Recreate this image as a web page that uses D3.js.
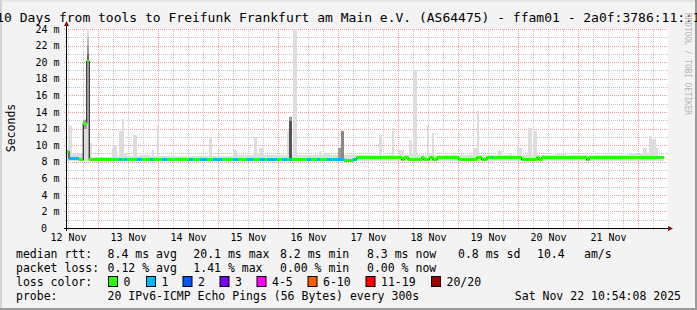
<!DOCTYPE html>
<html>
<head>
<meta charset="utf-8">
<script src="https://cdn.jsdelivr.net/npm/d3@7"></script>
<style>
body { margin: 0; background: #f3f3f3; }
svg { display: block; font-family: "DejaVu Sans Mono", monospace; }
</style>
</head>
<body>
<svg id="chart" width="697" height="310"></svg>
<script>
var width = 697, height = 310;

var title = "10 Days from tools to Freifunk Frankfurt am Main e.V. (AS64475) - ffam01 - 2a0f:3786:11::1";
var dayLabels = ["12 Nov", "13 Nov", "14 Nov", "15 Nov", "16 Nov", "17 Nov", "18 Nov", "19 Nov", "20 Nov", "21 Nov"];
var yTicks = [0, 2, 4, 6, 8, 10, 12, 14, 16, 18, 20, 22, 24];

// all times are hours counted from 12 Nov 00:00
var startHour = 11.6, endHour = 251.6, dataEndHour = 250.4;

// median rtt in ms, step series (value holds until next hour), with lost pings per step
var medHour = [11.6, 12.4, 16.4, 18.1, 19.5, 20.5, 32.5, 33.5, 34.4, 35.5, 39.5, 41.5, 44.8, 46.1, 49.5, 51.5,
  60.4, 62.1, 64.8, 67.5, 70.1, 73.5, 78.1, 80.1, 83.5, 86.1, 88.8, 90.8, 91.5, 95.5, 97.5, 99.7, 100.5, 101.6,
  107.5, 109.1, 111.5, 112.8, 115.5, 117.5, 118.1, 122.4, 126.1, 127.5, 145.5, 146.4, 148.1, 153.5, 154.4, 156.5,
  158, 159.6, 168.4, 175.5, 177.5, 179.5, 181.5, 182.1, 193.5, 199.5, 200.4, 201.5, 219.5, 220.4];
var medMs = [9.2, 8.35, 8.25, 12.6, 20.1, 8.3, 8.3, 8.3, 8.3, 8.3, 8.3, 8.3, 8.3, 8.3, 8.3, 8.3,
  8.3, 8.3, 8.3, 8.3, 8.3, 8.3, 8.3, 8.3, 8.3, 8.3, 8.3, 8.3, 8.3, 8.3, 8.3, 8.3, 8.3, 8.3,
  8.3, 8.3, 8.3, 8.3, 8.3, 8.3, 8.3, 8.2, 8.3, 8.45, 8.25, 8.45, 8.25, 8.45, 8.25, 8.45,
  8.25, 8.45, 8.25, 8.45, 8.25, 8.45, 8.45, 8.45, 8.25, 8.45, 8.25, 8.45, 8.25, 8.45];
var medLoss = [0, 1, 0, 0, 0, 0, 1, 0, 1, 0, 1, 0, 1, 0, 1, 0,
  1, 0, 1, 0, 1, 0, 1, 0, 1, 0, 1, 0, 1, 0, 1, 0, 1, 0,
  1, 0, 1, 0, 1, 0, 1, 0, 1, 0, 0, 0, 0, 0, 0, 0,
  0, 0, 0, 0, 0, 0, 1, 0, 0, 0, 0, 0, 0, 0];

// upper edge of the light smoke (ms), step series
var smokeHour = [11.6, 12.12, 13.48, 16, 18.12, 19.48, 20.52, 21.6, 29.48, 30.12, 31.48, 32.4, 33.48, 34.4, 35.48,
  38.12, 39.48, 40.8, 44.8, 45.48, 46.4, 47.48, 48.28, 68.4, 69.48, 78.12, 79.48, 86.4, 87.48, 88.4, 89.88,
  90.4, 99.48, 100.4, 101.6, 102.12, 103.72, 112.28, 113.32, 114, 116.4, 120.12, 121.08, 122.4, 136.4, 137.72,
  141.48, 142.4, 144.4, 146.4, 148.4, 149.72, 150.12, 151.72, 155.48, 156.52, 157.48, 158.4, 174.12, 175.48,
  176.52, 184.12, 185.48, 188.4, 189.48, 191.48, 192.4, 193.48, 196.12, 197.48, 198.12, 199.48, 207.2, 211.2,
  232.8, 236.12, 242.12, 243.48, 244.4, 245.72, 247.08, 248.12];
var smokeTop = [9.4, 12.25, 8.9, 9.0, 13.2, 24, 10.25, 8.6, 9.7, 10.0, 8.7, 11.7, 13.2, 8.9, 8.65,
  11.25, 8.65, 8.8, 8.65, 9.45, 8.7, 12.3, 8.7, 10.85, 8.7, 9.45, 8.75, 11.0, 8.9, 9.7, 8.9,
  8.75, 11.65, 13.5, 8.8, 24, 8.75, 9.3, 8.8, 9.0, 8.75, 9.65, 11.75, 8.75, 11.25, 8.8,
  12.05, 8.8, 9.45, 8.8, 10.65, 8.9, 19.0, 8.8, 12.3, 8.8, 11.45, 8.75, 9.7, 14.15,
  8.75, 9.3, 8.8, 9.0, 8.8, 9.9, 9.65, 8.8, 12.05, 8.8, 11.65, 8.75, 8.9, 8.75,
  8.8, 8.9, 9.7, 9.0, 11.1, 10.7, 9.7, 8.7];
var smokeFloor = 8.1;

// denser smoke: from hour, to hour, low ms, high ms, grey
var darkStart = [18.12, 19.48, 19.48, 19.48, 100.4, 100.4, 120.12, 121.08];
var darkEnd = [19.48, 20.52, 20.52, 20.52, 101.6, 101.6, 121.08, 122.4];
var darkLo = [11.9, 22.0, 21.0, 20.0, 12.9, 8.3, 8.4, 8.4];
var darkHi = [13.0, 23.0, 22.0, 21.0, 13.4, 12.9, 9.65, 11.75];
var darkGrey = ["#a0a0a0", "#bbbbbb", "#999999", "#666666", "#999999", "#555555", "#999999", "#888888"];

var lossLabels = ["0", "1", "2", "3", "4-5", "6-10", "11-19", "20/20"];
var lossColors = ["#26ff00", "#00b8ff", "#0059ff", "#7e00ff", "#ff00ff", "#ff5e00", "#ff0000", "#a10000"];
var rttStats = ["8.4 ms avg", "20.1 ms max", "8.2 ms min", "8.3 ms now", "0.8 ms sd", "10.4", "am/s"];
var lossStats = ["0.12 % avg", "1.41 % max", "0.00 % min", "0.00 % now"];
var probeText = "20 IPv6-ICMP Echo Pings (56 Bytes) every 300s";
var stampText = "Sat Nov 22 10:54:08 2025";

var day0 = new Date(2025, 10, 12);
function hour(h) { return new Date(day0.getTime() + h * 3600e3); }

var pLeft = 67, pRight = 667, pTop = 29, pBottom = 228;

var svg = d3.select("#chart");

svg.append("rect").attr("width", width).attr("height", height).attr("fill", "#f3f3f3");
// frame shading
svg.append("rect").attr("x", 0).attr("y", 0).attr("width", width).attr("height", 2).attr("fill", "#e6e6e6");
svg.append("rect").attr("x", 0).attr("y", 0).attr("width", 2).attr("height", height).attr("fill", "#d4d4d4");
svg.append("rect").attr("x", width - 2).attr("y", 0).attr("width", 2).attr("height", height).attr("fill", "#9a9a9a");
svg.append("rect").attr("x", 0).attr("y", height - 2).attr("width", width).attr("height", 2).attr("fill", "#9a9a9a");

var x = d3.scaleTime()
.domain([hour(startHour), hour(endHour)])
.range([pLeft, pRight]);

var y = d3.scaleLinear()
.domain([0, 24])
.range([pBottom, pTop]);

svg.append("rect")
.attr("x", pLeft).attr("y", pTop - 1)
.attr("width", pRight - pLeft + 1).attr("height", pBottom - pTop + 1)
.attr("fill", "#ffffff");

// grid
var grid = svg.append("g").attr("shape-rendering", "crispEdges");
var minorY = d3.range(1, 24, 2);
grid.selectAll("line.hmin")
.data(minorY)
.enter().append("line")
.attr("x1", pLeft - 2).attr("x2", pRight + 1)
.attr("y1", function (d) { return Math.round(y(d)) + 0.5; })
.attr("y2", function (d) { return Math.round(y(d)) + 0.5; })
.attr("stroke", "#c4c4c4").attr("stroke-dasharray", "1,1");

var sixHours = d3.timeHour.every(6).range(hour(startHour), hour(endHour))
.filter(function (d) { return d.getHours() != 0; });
grid.selectAll("line.vmin")
.data(sixHours)
.enter().append("line")
.attr("x1", function (d) { return Math.round(x(d)) + 0.5; })
.attr("x2", function (d) { return Math.round(x(d)) + 0.5; })
.attr("y1", pTop).attr("y2", pBottom + 2)
.attr("stroke", "#c4c4c4").attr("stroke-dasharray", "1,1");

grid.selectAll("line.hmaj")
.data(yTicks.slice(1))
.enter().append("line")
.attr("x1", pLeft - 3).attr("x2", pRight + 1)
.attr("y1", function (d) { return Math.round(y(d)) + 0.5; })
.attr("y2", function (d) { return Math.round(y(d)) + 0.5; })
.attr("stroke", "#f29a9a").attr("stroke-dasharray", "1,1");

var midnights = d3.timeDay.range(hour(startHour), hour(endHour));
grid.selectAll("line.vmaj")
.data(midnights)
.enter().append("line")
.attr("x1", function (d) { return Math.round(x(d)) + 0.5; })
.attr("x2", function (d) { return Math.round(x(d)) + 0.5; })
.attr("y1", pTop).attr("y2", pBottom + 3)
.attr("stroke", "#f29a9a").attr("stroke-dasharray", "1,1");

// smoke
var plot = svg.append("g").attr("shape-rendering", "crispEdges");
plot.selectAll("rect.smoke")
.data(smokeTop)
.enter().append("rect")
.attr("x", function (d, i) { return x(hour(smokeHour[i])); })
.attr("width", function (d, i) {
  var e = i + 1 < smokeHour.length ? smokeHour[i + 1] : dataEndHour;
  return x(hour(e)) - x(hour(smokeHour[i]));
})
.attr("y", function (d) { return y(d); })
.attr("height", function (d) { return y(smokeFloor) - y(d); })
.attr("fill", "#dddddd");

plot.selectAll("rect.dark")
.data(darkGrey)
.enter().append("rect")
.attr("x", function (d, i) { return x(hour(darkStart[i])); })
.attr("width", function (d, i) { return x(hour(darkEnd[i])) - x(hour(darkStart[i])); })
.attr("y", function (d, i) { return y(darkHi[i]); })
.attr("height", function (d, i) { return y(darkLo[i]) - y(darkHi[i]); })
.attr("fill", function (d) { return d; });

// median: thin dark line under the loss coloured band
var medPts = medHour.map(function (h, i) { return [h, medMs[i]]; });
medPts.push([dataEndHour, medMs[medMs.length - 1]]);
svg.append("path")
.datum(medPts)
.attr("fill", "none")
.attr("stroke", "#202020")
.attr("stroke-width", 1.2)
.attr("d", d3.line()
  .curve(d3.curveStepAfter)
  .x(function (d) { return x(hour(d[0])); })
  .y(function (d) { return y(d[1]); }));

var band = svg.append("g").attr("shape-rendering", "crispEdges");
band.selectAll("rect")
.data(medMs)
.enter().append("rect")
.attr("x", function (d, i) { return x(hour(medHour[i])); })
.attr("width", function (d, i) {
  var e = i + 1 < medHour.length ? medHour[i + 1] : dataEndHour;
  return x(hour(e)) - x(hour(medHour[i]));
})
.attr("y", function (d) { return y(d) - 1.5; })
.attr("height", 3)
.attr("fill", function (d, i) { return lossColors[medLoss[i]]; });

// axes
var yAxis = svg.append("g")
.attr("transform", "translate(" + pLeft + ",0)")
.call(d3.axisLeft(y).tickValues(yTicks).tickSize(0).tickPadding(7.5)
  .tickFormat(function (d) { return d ? d + " m" : "0"; }));
yAxis.select(".domain").remove();
yAxis.selectAll("text")
.attr("font-family", "DejaVu Sans Mono").attr("font-size", "10px").attr("fill", "#000")
.attr("x", function (d) { return d ? -7.5 : -20; });

var noons = dayLabels.map(function (s, i) { return hour(12 + 24 * i); });
var xAxis = svg.append("g")
.attr("transform", "translate(0," + pBottom + ")")
.call(d3.axisBottom(x).tickValues(noons).tickSize(0).tickPadding(5.5)
  .tickFormat(function (d, i) { return dayLabels[i]; }));
xAxis.select(".domain").remove();
xAxis.selectAll("text")
.attr("font-family", "DejaVu Sans Mono").attr("font-size", "10px").attr("fill", "#000");

var axes = svg.append("g").attr("shape-rendering", "crispEdges");
axes.append("line").attr("x1", pLeft - 0.5).attr("x2", pLeft - 0.5).attr("y1", 24).attr("y2", pBottom + 3)
.attr("stroke", "#000");
axes.append("line").attr("x1", pLeft - 3).attr("x2", pRight + 2).attr("y1", pBottom + 0.5).attr("y2", pBottom + 0.5)
.attr("stroke", "#000");
svg.append("path")
.attr("d", "M" + (pLeft - 3) + ",26 L" + (pLeft - 0.5) + ",21 L" + (pLeft + 2) + ",26 Z")
.attr("fill", "#8b1010");
svg.append("path")
.attr("d", "M" + (pRight + 1) + "," + (pBottom - 2) + " L" + (pRight + 6) + "," + (pBottom + 0.5) + " L" + (pRight + 1) + "," + (pBottom + 3) + " Z")
.attr("fill", "#8b1010");

// titles
svg.append("text")
.attr("x", width / 2).attr("y", 22)
.attr("text-anchor", "middle")
.attr("font-size", "13px")
.text(title);

svg.append("text")
.attr("transform", "translate(14.5,128) rotate(-90)")
.attr("text-anchor", "middle")
.attr("font-size", "11.5px")
.text("Seconds");

// rrdtool watermark
svg.append("text")
.attr("transform", "translate(685,13) rotate(90)")
.attr("font-size", "8.5px")
.attr("textLength", 102)
.attr("lengthAdjust", "spacingAndGlyphs")
.attr("fill", "#b4b4b4")
.text("RRDTOOL / TOBI OETIKER");

// legend
var lg = svg.append("g").attr("font-size", "11.5px").attr("fill", "#000");
var rowY = [258, 272, 286, 300];
lg.append("text").attr("x", 16).attr("y", rowY[0]).text("median rtt:");
lg.append("text").attr("x", 16).attr("y", rowY[1]).text("packet loss:");
lg.append("text").attr("x", 16).attr("y", rowY[2]).text("loss color:");
lg.append("text").attr("x", 16).attr("y", rowY[3]).text("probe:");

var rttX = [107.6, 193.3, 280, 367, 458, 537, 584];
lg.selectAll("text.rtt")
.data(rttStats)
.enter().append("text")
.attr("x", function (d, i) { return rttX[i]; })
.attr("y", rowY[0])
.text(function (d) { return d; });

lg.selectAll("text.loss")
.data(lossStats)
.enter().append("text")
.attr("x", function (d, i) { return rttX[i]; })
.attr("y", rowY[1])
.text(function (d) { return d; });

var boxX = [108, 146, 182.5, 219.5, 256.5, 307.5, 365.5, 431];
lg.selectAll("rect.lc")
.data(lossColors)
.enter().append("rect")
.attr("x", function (d, i) { return boxX[i] + 0.5; })
.attr("y", 276.5)
.attr("width", 9).attr("height", 10)
.attr("fill", function (d) { return d; })
.attr("stroke", "#000");
lg.selectAll("text.lc")
.data(lossLabels)
.enter().append("text")
.attr("x", function (d, i) { return boxX[i] + 15.5; })
.attr("y", rowY[2])
.text(function (d) { return d; });

lg.append("text").attr("x", 107.6).attr("y", rowY[3]).text(probeText);
lg.append("text").attr("x", 681).attr("y", rowY[3]).attr("text-anchor", "end").text(stampText);
</script>
</body>
</html>
